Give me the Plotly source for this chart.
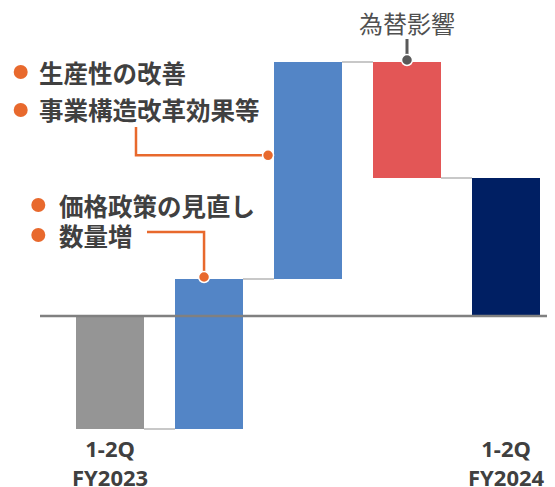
import plotly.graph_objects as go

# ---- data ----
categories = ["1-2Q FY2023", "数量増・価格政策の見直し", "生産性の改善・事業構造改革効果等", "為替影響", "1-2Q FY2024"]
start_value = -113
changes = [150, 217, -116]
bar_colors = ["#959595", "#5385C6", "#5385C6", "#E35656", "#001F63"]
tick_labels = ["1-2Q<br>FY2023", "", "", "", "1-2Q<br>FY2024"]
callout_group_1 = ["生産性の改善", "事業構造改革効果等"]
callout_group_2 = ["価格政策の見直し", "数量増"]
callout_fx = "為替影響"

# ---- derived bars ----
bases, heights = [0], [start_value]
cum = start_value
for c in changes:
    bases.append(cum)
    heights.append(c)
    cum += c
bases.append(0)
heights.append(cum)
xs = list(range(len(categories)))

OFF = 8  # page body margin
W, H = 555 - OFF, 487 - OFF
XR = [-(110 - OFF) / 99, -(110 - OFF) / 99 + W / 99]
YR = [-(H - (316 - OFF)), 316 - OFF]
BW = 0.687

def xp(xd):  # data x -> page pixel
    return (xd - XR[0]) / (XR[1] - XR[0]) * W + OFF

def yp(yd):  # data y -> page pixel
    return (YR[1] - yd) / (YR[1] - YR[0]) * H + OFF

def px(x):  # page pixel -> paper
    return (x - OFF) / W

def py(y):
    return 1 - (y - OFF) / H

fig = go.Figure()
fig.add_trace(go.Bar(
    x=xs, y=heights, base=bases, width=BW,
    marker=dict(color=bar_colors, line=dict(width=0)),
    hoverinfo="skip", showlegend=False,
))

shapes = []
tops = [b + h for b, h in zip(bases, heights)]
for i in range(len(xs) - 1):
    lvl = tops[i]
    shapes.append(dict(type="line", xref="x", yref="y",
                       x0=xs[i] + BW / 2, x1=xs[i + 1] - BW / 2, y0=lvl, y1=lvl,
                       line=dict(color="#C8C8C8", width=2), layer="below"))
shapes.append(dict(type="line", xref="paper", yref="y", x0=px(40), x1=1, y0=0, y1=0,
                   line=dict(color="#808080", width=2.5), layer="above"))

ORANGE = "#E8692D"
DARK = "#595959"

dot_fx = (xs[3], tops[2] + 2)
dot_qty = (xs[1] - 0.05, tops[1] + 2)
dot_prod = (xs[2] - BW / 2 - 0.06, bases[2] + 0.57 * heights[2])

def seg_path(points):
    return "M " + " L ".join(f"{px(a):.5f},{py(b):.5f}" for a, b in points)

dpx, dpy = xp(dot_prod[0]), yp(dot_prod[1])
shapes.append(dict(type="path", xref="paper", yref="paper",
                   path=seg_path([(136, 127), (136, dpy), (dpx, dpy)]),
                   line=dict(color=ORANGE, width=2.5), layer="below"))
dqx, dqy = xp(dot_qty[0]), yp(dot_qty[1])
shapes.append(dict(type="path", xref="paper", yref="paper",
                   path=seg_path([(147, 232), (dqx, 232), (dqx, dqy)]),
                   line=dict(color=ORANGE, width=2.5), layer="below"))
dfx, dfy = xp(dot_fx[0]), yp(dot_fx[1])
shapes.append(dict(type="path", xref="paper", yref="paper",
                   path=seg_path([(dfx, 39), (dfx, dfy)]),
                   line=dict(color=DARK, width=3), layer="below"))

r = 7
for (bx, by) in [(20.7, 72), (20.7, 110), (38.3, 205), (38.3, 235)]:
    shapes.append(dict(type="circle", xref="paper", yref="paper",
                       x0=px(bx - r), x1=px(bx + r), y0=py(by + r), y1=py(by - r),
                       fillcolor=ORANGE, line=dict(width=0)))

fig.add_trace(go.Scatter(
    x=[dot_prod[0], dot_qty[0]], y=[dot_prod[1], dot_qty[1]], mode="markers",
    marker=dict(size=11, color=ORANGE, line=dict(color="white", width=1.5)),
    hoverinfo="skip", showlegend=False, cliponaxis=False))
fig.add_trace(go.Scatter(
    x=[dot_fx[0]], y=[dot_fx[1]], mode="markers",
    marker=dict(size=11, color=DARK, line=dict(color="white", width=1.5)),
    hoverinfo="skip", showlegend=False, cliponaxis=False))

annotations = []
CJK_B = dict(family="Noto Sans CJK JP", size=24.5, color="#404040")
for t, y in zip(callout_group_1, [72, 110]):
    annotations.append(dict(text=f"<b>{t}</b>", xref="paper", yref="paper", x=px(37), y=py(y),
                            xanchor="left", yanchor="middle", showarrow=False, font=CJK_B))
for t, y in zip(callout_group_2, [205, 235]):
    annotations.append(dict(text=f"<b>{t}</b>", xref="paper", yref="paper", x=px(57), y=py(y),
                            xanchor="left", yanchor="middle", showarrow=False, font=CJK_B))
annotations.append(dict(text=callout_fx, xref="x", yref="paper", x=xs[3], y=py(23),
                        xanchor="center", yanchor="middle", showarrow=False,
                        font=dict(family="Noto Sans CJK JP", size=24, color="#505050")))
for x, t in zip(xs, tick_labels):
    if t:
        annotations.append(dict(text=f"<b>{t}</b>", xref="x", yref="paper", x=x, y=py(462),
                                xanchor="center", yanchor="middle", showarrow=False,
                                font=dict(family="Noto Sans", size=22, color="#404040")))

fig.update_layout(
    width=W, height=H, margin=dict(l=0, r=0, t=0, b=0),
    paper_bgcolor="white", plot_bgcolor="white",
    xaxis=dict(range=XR, visible=False, fixedrange=True),
    yaxis=dict(range=YR, visible=False, fixedrange=True),
    shapes=shapes, annotations=annotations, bargap=0, showlegend=False,
)
fig.write_html("out.html")
